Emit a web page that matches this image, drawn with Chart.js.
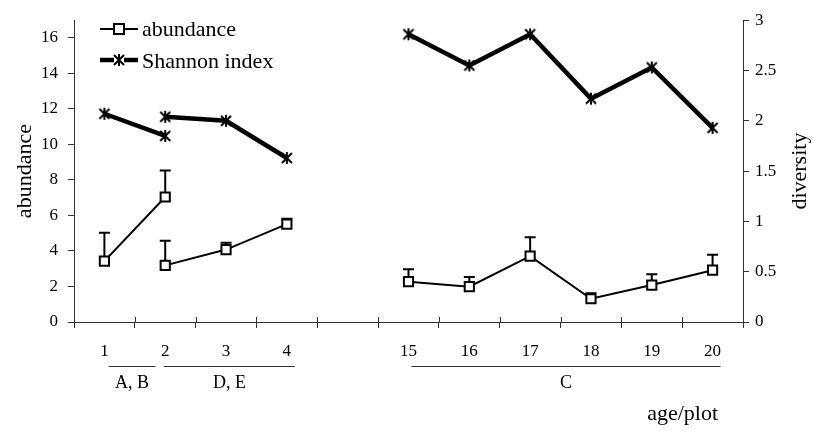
<!DOCTYPE html>
<html>
<head>
<meta charset="utf-8">
<script src="https://cdn.jsdelivr.net/npm/chart.js@4/dist/chart.umd.min.js"></script>
<style>
  body { margin: 0; background: #fff; }
  #wrap { width: 813px; height: 432px; }
</style>
</head>
<body>
<div id="wrap"><canvas id="myChart" width="813" height="432"></canvas></div>
<script>
// categories on the x axis (one empty slot between 4 and 15)
const categories = ['1', '2', '3', '4', '', '15', '16', '17', '18', '19', '20'];

// abundance, split in the three plot groups
const abundanceAB = [3.43, 7.04, null, null, null, null, null, null, null, null, null];
const abundanceDE = [null, 3.19, 4.08, 5.51, null, null, null, null, null, null, null];
const abundanceC  = [null, null, null, null, null, 2.27, 1.99, 3.71, 1.31, 2.08, 2.92];

// upper error (sd) for abundance
const errorAB = [1.60, 1.49, null, null, null, null, null, null, null, null, null];
const errorDE = [null, 1.39, 0.39, 0.31, null, null, null, null, null, null, null];
const errorC  = [null, null, null, null, null, 0.70, 0.55, 1.06, 0.31, 0.61, 0.87];

// Shannon index (right axis)
const shannonAB = [2.07, 1.85, null, null, null, null, null, null, null, null, null];
const shannonDE = [null, 2.04, 2.00, 1.63, null, null, null, null, null, null, null];
const shannonC  = [null, null, null, null, null, 2.86, 2.55, 2.86, 2.22, 2.53, 1.93];

// group brackets under the axis labels
const groupNames = ['A, B', 'D, E', 'C'];
const groupFrom = [0.07, 0.98, 5.05];
const groupTo = [0.84, 3.13, 10.13];

const leftTicks = [0, 2, 4, 6, 8, 10, 12, 14, 16];

const serif = "'Liberation Serif', 'DejaVu Serif', serif";

// star marker: an X with a vertical bar
function makeStar() {
    const c = document.createElement('canvas');
    c.width = 14; c.height = 14;
    const g = c.getContext('2d');
    g.strokeStyle = '#000';
    g.lineWidth = 2;
    g.beginPath();
    g.moveTo(2, 2); g.lineTo(12, 12);
    g.moveTo(12, 2); g.lineTo(2, 12);
    g.moveTo(7, 1); g.lineTo(7, 13);
    g.stroke();
    return c;
}
const star = makeStar();

function abundanceSet(data, err) {
    return {
        label: 'abundance', data: data, err: err, yAxisID: 'y',
        borderColor: '#000', borderWidth: 2,
        pointStyle: 'rect', pointRadius: 6.5, pointBorderWidth: 2,
        pointBackgroundColor: '#fff', pointBorderColor: '#000',
        spanGaps: false, tension: 0
    };
}
function shannonSet(data) {
    return {
        label: 'Shannon index', data: data, yAxisID: 'y1',
        borderColor: '#000', borderWidth: 4.5,
        pointStyle: star, pointRadius: 7,
        spanGaps: false, tension: 0
    };
}

const extras = {
    id: 'extras',
    beforeDatasetsDraw(chart) {
        // error bars (upward only)
        const ctx = chart.ctx, xs = chart.scales.x, ys = chart.scales.y;
        ctx.save();
        ctx.strokeStyle = '#000';
        ctx.lineWidth = 2;
        chart.data.datasets.forEach((ds) => {
            if (!ds.err) return;
            ds.data.forEach((v, i) => {
                if (v == null || ds.err[i] == null) return;
                const x = xs.getPixelForValue(i);
                const y0 = ys.getPixelForValue(v);
                const y1 = ys.getPixelForValue(v + ds.err[i]);
                ctx.beginPath();
                ctx.moveTo(x, y0); ctx.lineTo(x, y1);
                ctx.moveTo(x - 5.5, y1); ctx.lineTo(x + 5.5, y1);
                ctx.stroke();
            });
        });
        // x ticks also reach a little above the axis line
        const step = xs.getPixelForValue(1) - xs.getPixelForValue(0);
        const bottom = chart.chartArea.bottom;
        ctx.lineWidth = 1;
        ctx.strokeStyle = '#333';
        for (let i = 0; i <= categories.length; i++) {
            const x = Math.round(xs.getPixelForValue(0) - step / 2 + i * step) + 0.5;
            ctx.beginPath(); ctx.moveTo(x, bottom - 5); ctx.lineTo(x, bottom); ctx.stroke();
        }
        ctx.restore();
    },
    afterDraw(chart) {
        const ctx = chart.ctx, xs = chart.scales.x, area = chart.chartArea;
        ctx.save();
        ctx.fillStyle = '#000';
        ctx.strokeStyle = '#000';

        // legend
        ctx.lineWidth = 2;
        ctx.beginPath(); ctx.moveTo(100, 29); ctx.lineTo(138, 29); ctx.stroke();
        ctx.fillStyle = '#fff';
        ctx.fillRect(114, 24, 10, 10);
        ctx.strokeRect(114, 24, 10, 10);
        ctx.lineWidth = 4.5;
        ctx.beginPath(); ctx.moveTo(100, 60); ctx.lineTo(138, 60); ctx.stroke();
        ctx.fillStyle = '#fff';
        ctx.fillRect(114, 54, 10, 12);
        ctx.drawImage(star, 112, 53);
        ctx.fillStyle = '#000';
        ctx.font = '22px ' + serif;
        ctx.textAlign = 'left';
        ctx.textBaseline = 'alphabetic';
        ctx.fillText('abundance', 142, 36);
        ctx.fillText('Shannon index', 142, 68);

        // group brackets
        ctx.lineWidth = 1;
        ctx.strokeStyle = '#333';
        ctx.font = '18px ' + serif;
        ctx.textAlign = 'center';
        const step = xs.getPixelForValue(1) - xs.getPixelForValue(0);
        groupNames.forEach((name, i) => {
            const a = xs.getPixelForValue(0) + groupFrom[i] * step;
            const b = xs.getPixelForValue(0) + groupTo[i] * step;
            ctx.beginPath(); ctx.moveTo(a, 366.5); ctx.lineTo(b, 366.5); ctx.stroke();
            ctx.fillText(name, (a + b) / 2, 388);
        });

        // axis titles
        ctx.font = '22px ' + serif;
        ctx.textAlign = 'right';
        ctx.fillText('age/plot', 718, 420);
        const midY = (area.top + area.bottom) / 2;
        [[25, 'abundance'], [800, 'diversity']].forEach(([x, t]) => {
            ctx.save();
            ctx.translate(x, midY);
            ctx.rotate(-Math.PI / 2);
            ctx.textAlign = 'center';
            ctx.textBaseline = 'middle';
            ctx.fillText(t, 0, 0);
            ctx.restore();
        });
        ctx.restore();
    }
};

const tickFont = { family: serif, size: 17 };

const myChart = new Chart(document.getElementById('myChart'), {
    type: 'line',
    data: {
        labels: categories,
        datasets: [
            abundanceSet(abundanceAB, errorAB),
            abundanceSet(abundanceDE, errorDE),
            abundanceSet(abundanceC, errorC),
            shannonSet(shannonAB),
            shannonSet(shannonDE),
            shannonSet(shannonC)
        ]
    },
    options: {
        responsive: false,
        animation: false,
        layout: { padding: { top: 18 } },
        plugins: { legend: { display: false }, tooltip: { enabled: false } },
        scales: {
            x: {
                offset: true,
                grid: { offset: true, drawOnChartArea: false, tickLength: 6, color: '#333' },
                border: { color: '#333', width: 1 },
                ticks: { font: tickFont, color: '#000', padding: 13, maxRotation: 0, autoSkip: false },
                afterFit: (s) => { s.height = 110; }
            },
            y: {
                position: 'left',
                min: 0, max: 17,
                afterBuildTicks: (s) => { s.ticks = leftTicks.map((v) => ({ value: v })); },
                grid: { drawOnChartArea: false, tickLength: 6, color: '#333' },
                border: { color: '#333', width: 1 },
                ticks: { font: tickFont, color: '#000', padding: 10 },
                afterFit: (s) => { s.width = 74; }
            },
            y1: {
                position: 'right',
                min: 0, max: 3,
                ticks: {
                    stepSize: 0.5, font: tickFont, color: '#000', padding: 6,
                    callback: (v) => String(v)
                },
                grid: { drawOnChartArea: false, tickLength: 6, color: '#333' },
                border: { color: '#333', width: 1 },
                afterFit: (s) => { s.width = 70; }
            }
        }
    },
    plugins: [extras]
});
</script>
</body>
</html>
